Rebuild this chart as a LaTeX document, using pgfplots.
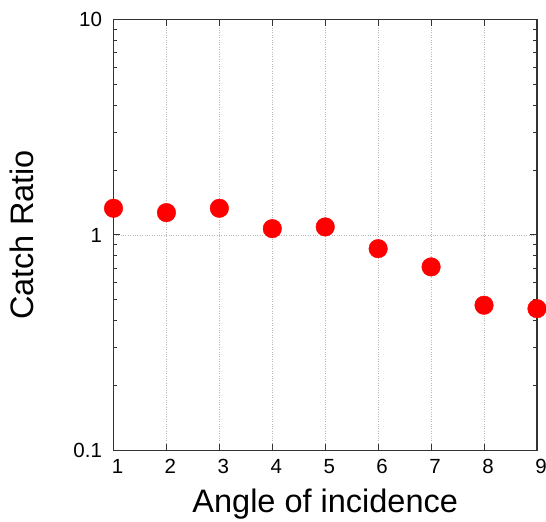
\documentclass[border=0pt]{standalone}
\usepackage{pgfplots}
\pgfplotsset{compat=1.18}
\usepackage{fontspec}
\setmainfont{Liberation Sans}
\begin{document}
\begin{tikzpicture}
\begin{axis}[
  width=423.5pt, height=431pt, scale only axis,
  xmin=1, xmax=9, ymin=0.1, ymax=10, ymode=log,
  xtick={1,2,3,4,5,6,7,8,9},
  ytick={0.1,1,10}, yticklabels={0.1,1,10},
  minor ytick={0.2,0.3,0.4,0.5,0.6,0.7,0.8,0.9,2,3,4,5,6,7,8,9},
  tick align=inside,
  major tick length=7pt, minor tick length=4pt,
  grid=major,
  major grid style={dotted, black!28, line width=0.6pt},
  minor grid style={draw=none},
  axis line style={line width=1.2pt, black!80},
  every tick/.style={black!80, line width=1pt},
  /pgf/number format/assume math mode=true,
  ticklabel style={font=\fontsize{20.5}{24}\selectfont},
  xticklabel style={xshift=4pt, yshift=-5.5pt},
  yticklabel style={xshift=-8pt},
  xlabel={Angle of incidence},
  ylabel={Catch Ratio},
  label style={font=\fontsize{32.5}{38}\selectfont},
  xlabel style={at={(axis description cs:0.5,-0.145)}, anchor=base},
  ylabel style={at={(axis description cs:-0.190,0.5)}, anchor=base},
  clip=false,
]
\addplot[only marks, mark=*, mark size=9.3pt, mark options={fill=red, draw=red}]
  coordinates {(1,1.33) (2,1.27) (3,1.33) (4,1.07) (5,1.09) (6,0.864) (7,0.711) (8,0.472) (9,0.455)};
\coordinate (bl) at (rel axis cs:-0.268,-0.1659);
\coordinate (tr) at (rel axis cs:1.0213,1.0452);
\end{axis}
\pgfresetboundingbox
\path[use as bounding box] (bl) rectangle (tr);
\end{tikzpicture}
\end{document}
